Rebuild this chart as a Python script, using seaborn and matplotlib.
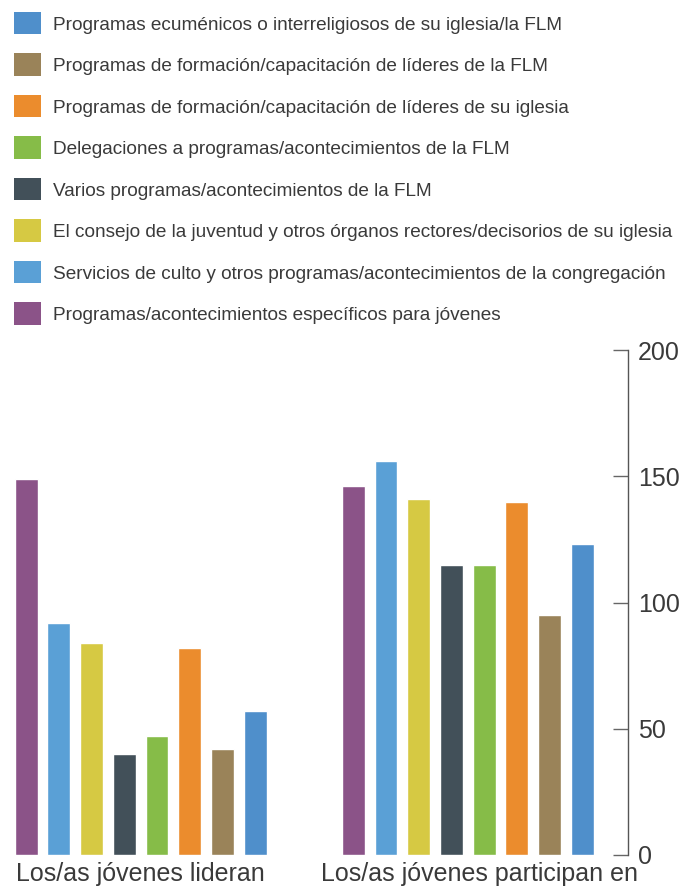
import pandas as pd
import seaborn as sns
import matplotlib.pyplot as plt
from matplotlib.patches import Patch
from matplotlib.transforms import ScaledTranslation

# Legend order (top to bottom)
programs = [
    'Programas ecuménicos o interreligiosos de su iglesia/la FLM',
    'Programas de formación/capacitación de líderes de la FLM',
    'Programas de formación/capacitación de líderes de su iglesia',
    'Delegaciones a programas/acontecimientos de la FLM',
    'Varios programas/acontecimientos de la FLM',
    'El consejo de la juventud y otros órganos rectores/decisorios de su iglesia',
    'Servicios de culto y otros programas/acontecimientos de la congregación',
    'Programas/acontecimientos específicos para jóvenes',
]
colors = ['#4f8fcb', '#9a8359', '#eb8c2d', '#86bc48', '#425059', '#d6c943', '#5aa0d6', '#8b5388']

groups = ['Los/as jóvenes lideran', 'Los/as jóvenes participan en']
# values in legend order
lideran = [57, 42, 82, 47, 40, 84, 92, 149]
participan = [123, 95, 140, 115, 115, 141, 156, 146]

rows = []
for p, a, b in zip(programs, lideran, participan):
    rows.append({'Grupo': groups[0], 'Programa': p, 'Valor': a})
    rows.append({'Grupo': groups[1], 'Programa': p, 'Valor': b})
df = pd.DataFrame(rows)

sns.set_style('white')
plt.rcParams['font.family'] = ['Liberation Sans', 'DejaVu Sans']
text_color = '#3a3a3a'

fig = plt.figure(figsize=(6.81, 8.93), dpi=100)
W, H = 681, 893
ax = fig.add_axes([0, (H - 855) / H, 628 / W, 505 / H])

# bars run in reverse legend order
bar_order = programs[::-1]
sns.barplot(data=df, x='Grupo', y='Valor', hue='Programa', order=groups,
            hue_order=bar_order, palette=dict(zip(programs, colors)),
            gap=0.3, width=0.8, saturation=1, legend=False, ax=ax)

ax.set_xlim(-0.43, 1.49)
ax.set_ylim(0, 200)
ax.set_xlabel('')
ax.set_ylabel('')
for s in ['left', 'top', 'bottom']:
    ax.spines[s].set_visible(False)
ax.spines['right'].set_color('#555555')
ax.spines['right'].set_linewidth(1.0)
ax.yaxis.tick_right()
ax.set_yticks([0, 50, 100, 150, 200])
ax.tick_params(axis='y', direction='in', length=11, width=1, color='#666666',
               pad=7, labelsize=18, labelcolor=text_color)
ax.tick_params(axis='x', length=0, pad=5, labelsize=18, labelcolor=text_color)
# second category label sits a bit right of its group centre
lab = ax.get_xticklabels()[1]
lab.set_transform(lab.get_transform() + ScaledTranslation(12 / 100, 0, fig.dpi_scale_trans))

# legend
handles = [Patch(facecolor=c, edgecolor='none') for c in colors]
fig.legend(handles, programs, loc='upper left', bbox_to_anchor=(14 / W, 1 - 12 / H),
           frameon=False, fontsize=13.7, handlelength=1.44, handleheight=1.44,
           handletextpad=0.62, labelspacing=1.0, borderpad=0, borderaxespad=0,
           labelcolor=text_color)

fig.savefig('out.png', dpi=100)
